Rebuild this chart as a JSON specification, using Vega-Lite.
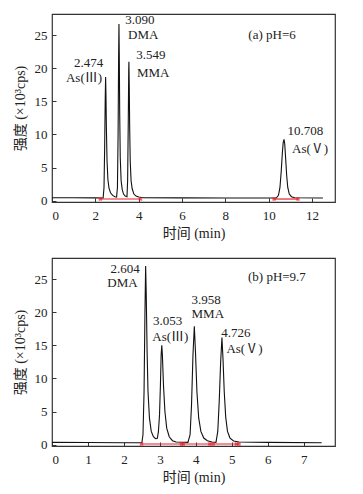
{
  "$schema": "https://vega.github.io/schema/vega-lite/v6.json",
  "padding": {"top": 13, "left": 12, "right": 5, "bottom": 5},
  "background": "white",
  "spacing": 16,
  "config": {
    "font": "'Liberation Serif', 'Noto Sans CJK SC', serif",
    "view": {"stroke": "#333", "strokeWidth": 1.2},
    "axis": {
      "domain": false, "grid": false, "labelOverlap": false, "labelSeparation": -40,
      "offset": -4, "tickSize": 4, "tickColor": "#333",
      "labelFont": "'Liberation Serif', 'Noto Sans CJK SC', serif", "labelFontSize": 13, "labelColor": "#222",
      "titleFont": "'Liberation Serif', 'Noto Sans CJK SC', serif", "titleFontSize": 14, "titleFontWeight": "normal", "titleColor": "#222"
    },
    "axisX": {"labelPadding": 7, "titlePadding": 4},
    "axisY": {"labelPadding": 5, "titlePadding": 7, "labelOverlap": false},
    "axisQuantitative": {"labelOverlap": false},
    "text": {"font": "'Liberation Serif', 'Noto Sans CJK SC', serif", "fontSize": 13, "color": "#222", "baseline": "middle"}
  },
  "datasets": {
    "traceA": [
      {"t": 0, "v": 0.45}, {"t": 1, "v": 0.45}, {"t": 2, "v": 0.42}, {"t": 2.36, "v": 0.4},
      {"t": 2.40, "v": 2}, {"t": 2.43, "v": 8}, {"t": 2.455, "v": 15}, {"t": 2.474, "v": 18.7},
      {"t": 2.49, "v": 16}, {"t": 2.51, "v": 11}, {"t": 2.54, "v": 6}, {"t": 2.58, "v": 3.2},
      {"t": 2.63, "v": 1.9}, {"t": 2.70, "v": 1.2}, {"t": 2.80, "v": 0.8}, {"t": 2.90, "v": 0.6}, {"t": 2.98, "v": 0.55},
      {"t": 3.02, "v": 2}, {"t": 3.05, "v": 10}, {"t": 3.075, "v": 22}, {"t": 3.09, "v": 26.7},
      {"t": 3.105, "v": 22}, {"t": 3.125, "v": 13}, {"t": 3.15, "v": 6.5}, {"t": 3.19, "v": 3},
      {"t": 3.24, "v": 1.7}, {"t": 3.30, "v": 1.0}, {"t": 3.38, "v": 0.7}, {"t": 3.46, "v": 0.6},
      {"t": 3.49, "v": 3}, {"t": 3.52, "v": 12}, {"t": 3.54, "v": 19.5}, {"t": 3.549, "v": 21},
      {"t": 3.565, "v": 17.5}, {"t": 3.585, "v": 11}, {"t": 3.61, "v": 6}, {"t": 3.65, "v": 3},
      {"t": 3.70, "v": 1.8}, {"t": 3.78, "v": 1.0}, {"t": 3.88, "v": 0.7}, {"t": 4.0, "v": 0.55}, {"t": 4.2, "v": 0.45},
      {"t": 6, "v": 0.42}, {"t": 8, "v": 0.4}, {"t": 10.35, "v": 0.4},
      {"t": 10.45, "v": 0.8}, {"t": 10.52, "v": 2}, {"t": 10.58, "v": 4.5}, {"t": 10.63, "v": 7.2},
      {"t": 10.67, "v": 8.8}, {"t": 10.708, "v": 9.25}, {"t": 10.74, "v": 8.6}, {"t": 10.78, "v": 6.5},
      {"t": 10.83, "v": 3.8}, {"t": 10.88, "v": 2}, {"t": 10.95, "v": 1}, {"t": 11.05, "v": 0.6},
      {"t": 11.2, "v": 0.45}, {"t": 12.5, "v": 0.4}
    ],
    "traceB": [
      {"t": 0, "v": 0.35}, {"t": 1, "v": 0.33}, {"t": 2, "v": 0.3}, {"t": 2.50, "v": 0.3},
      {"t": 2.53, "v": 1.5}, {"t": 2.56, "v": 8}, {"t": 2.585, "v": 20}, {"t": 2.604, "v": 27},
      {"t": 2.62, "v": 23}, {"t": 2.645, "v": 14}, {"t": 2.67, "v": 8}, {"t": 2.71, "v": 4},
      {"t": 2.76, "v": 2}, {"t": 2.82, "v": 1.2}, {"t": 2.88, "v": 0.9}, {"t": 2.93, "v": 0.95},
      {"t": 2.96, "v": 2}, {"t": 2.99, "v": 4.5}, {"t": 3.015, "v": 9}, {"t": 3.035, "v": 13.5}, {"t": 3.053, "v": 15},
      {"t": 3.07, "v": 13.5}, {"t": 3.10, "v": 9}, {"t": 3.14, "v": 5}, {"t": 3.19, "v": 2.5},
      {"t": 3.26, "v": 1.2}, {"t": 3.35, "v": 0.6}, {"t": 3.45, "v": 0.4}, {"t": 3.78, "v": 0.35},
      {"t": 3.84, "v": 1.5}, {"t": 3.88, "v": 6}, {"t": 3.92, "v": 13.5}, {"t": 3.958, "v": 17.9},
      {"t": 3.99, "v": 14}, {"t": 4.03, "v": 8}, {"t": 4.08, "v": 4}, {"t": 4.14, "v": 2},
      {"t": 4.22, "v": 1}, {"t": 4.32, "v": 0.6}, {"t": 4.45, "v": 0.4}, {"t": 4.56, "v": 0.35},
      {"t": 4.61, "v": 2}, {"t": 4.65, "v": 6.5}, {"t": 4.69, "v": 12.5}, {"t": 4.726, "v": 16.2},
      {"t": 4.755, "v": 13}, {"t": 4.79, "v": 8}, {"t": 4.83, "v": 4.2}, {"t": 4.88, "v": 2},
      {"t": 4.95, "v": 1}, {"t": 5.05, "v": 0.55}, {"t": 5.2, "v": 0.4}, {"t": 6, "v": 0.35}, {"t": 7.5, "v": 0.3}
    ],
    "redA": [{"t1": 2.23, "t2": 4.08, "v": 0.25}, {"t1": 10.25, "t2": 11.35, "v": 0.25}],
    "redB": [{"t1": 2.49, "t2": 5.2, "v": 0.1}],
    "markA": [{"t": 2.23, "v": 0.25}, {"t": 4.08, "v": 0.25}, {"t": 10.25, "v": 0.25}, {"t": 11.35, "v": 0.25}],
    "markB": [{"t": 2.49, "v": 0.1}, {"t": 3.6, "v": 0.1}, {"t": 3.65, "v": 0.1}, {"t": 4.39, "v": 0.1}, {"t": 4.48, "v": 0.1}, {"t": 5.13, "v": 0.1}, {"t": 5.2, "v": 0.1}],
    "labA_r": [{"t": 2.37, "v": 20.8, "s": "2.474"}, {"t": 2.31, "v": 18.6, "s": "As(Ⅲ)"}],
    "labA_l": [
      {"t": 3.38, "v": 27.3, "s": "3.090"}, {"t": 3.51, "v": 25.0, "s": "DMA"},
      {"t": 3.89, "v": 22.0, "s": "3.549"}, {"t": 3.92, "v": 19.3, "s": "MMA"},
      {"t": 9.06, "v": 25.0, "s": "(a)  pH=6"},
      {"t": 10.87, "v": 10.5, "s": "10.708"}, {"t": 11.08, "v": 7.85, "s": "As(Ⅴ)"}
    ],
    "labB_r": [{"t": 2.44, "v": 26.6, "s": "2.604"}, {"t": 2.38, "v": 24.35, "s": "DMA"}],
    "labB_l": [
      {"t": 2.81, "v": 18.7, "s": "3.053"}, {"t": 2.79, "v": 16.3, "s": "As(Ⅲ)"},
      {"t": 3.88, "v": 21.8, "s": "3.958"}, {"t": 3.88, "v": 19.7, "s": "MMA"},
      {"t": 4.71, "v": 16.9, "s": "4.726"}, {"t": 4.85, "v": 14.4, "s": "As(Ⅴ)"},
      {"t": 5.45, "v": 25.4, "s": "(b)  pH=9.7"}
    ]
  },
  "vconcat": [
    {
      "width": 283, "height": 188,
      "layer": [
        {"data": {"name": "traceA"}, "mark": {"type": "line", "color": "#111", "strokeWidth": 1.1},
         "encoding": {
           "x": {"field": "t", "type": "quantitative", "scale": {"domain": [0, 13.06], "nice": false, "zero": false},
                 "axis": {"values": [0, 2, 4, 6, 8, 10, 12], "title": "时间 (min)", "labelOverlap": false}},
           "y": {"field": "v", "type": "quantitative", "scale": {"domain": [-0.2, 28.2], "nice": false, "zero": false},
                 "axis": {"tickCount": 6, "title": "强度 (×10³cps)", "labelOverlap": false}}
         }},
        {"data": {"name": "redA"}, "mark": {"type": "rule", "color": "#e8202a", "strokeWidth": 1.2},
         "encoding": {"x": {"field": "t1", "type": "quantitative"}, "x2": {"field": "t2"}, "y": {"field": "v", "type": "quantitative"}}},
        {"data": {"name": "markA"}, "mark": {"type": "point", "shape": "cross", "angle": 45, "size": 18, "filled": true, "color": "#e8202a"},
         "encoding": {"x": {"field": "t", "type": "quantitative"}, "y": {"field": "v", "type": "quantitative"}}},
        {"data": {"name": "labA_r"}, "mark": {"type": "text", "align": "right"},
         "encoding": {"x": {"field": "t", "type": "quantitative"}, "y": {"field": "v", "type": "quantitative"}, "text": {"field": "s"}}},
        {"data": {"name": "labA_l"}, "mark": {"type": "text", "align": "left"},
         "encoding": {"x": {"field": "t", "type": "quantitative"}, "y": {"field": "v", "type": "quantitative"}, "text": {"field": "s"}}}
      ]
    },
    {
      "width": 283, "height": 188,
      "layer": [
        {"data": {"name": "traceB"}, "mark": {"type": "line", "color": "#111", "strokeWidth": 1.1},
         "encoding": {
           "x": {"field": "t", "type": "quantitative", "scale": {"domain": [0, 7.87], "nice": false, "zero": false},
                 "axis": {"values": [0, 1, 2, 3, 4, 5, 6, 7], "title": "时间 (min)", "labelOverlap": false}},
           "y": {"field": "v", "type": "quantitative", "scale": {"domain": [-0.2, 28.2], "nice": false, "zero": false},
                 "axis": {"tickCount": 6, "title": "强度 (×10³cps)", "labelOverlap": false}}
         }},
        {"data": {"name": "redB"}, "mark": {"type": "rule", "color": "#e8202a", "strokeWidth": 1.2},
         "encoding": {"x": {"field": "t1", "type": "quantitative"}, "x2": {"field": "t2"}, "y": {"field": "v", "type": "quantitative"}}},
        {"data": {"name": "markB"}, "mark": {"type": "point", "shape": "cross", "angle": 45, "size": 18, "filled": true, "color": "#e8202a"},
         "encoding": {"x": {"field": "t", "type": "quantitative"}, "y": {"field": "v", "type": "quantitative"}}},
        {"data": {"name": "labB_r"}, "mark": {"type": "text", "align": "right"},
         "encoding": {"x": {"field": "t", "type": "quantitative"}, "y": {"field": "v", "type": "quantitative"}, "text": {"field": "s"}}},
        {"data": {"name": "labB_l"}, "mark": {"type": "text", "align": "left"},
         "encoding": {"x": {"field": "t", "type": "quantitative"}, "y": {"field": "v", "type": "quantitative"}, "text": {"field": "s"}}}
      ]
    }
  ]
}
